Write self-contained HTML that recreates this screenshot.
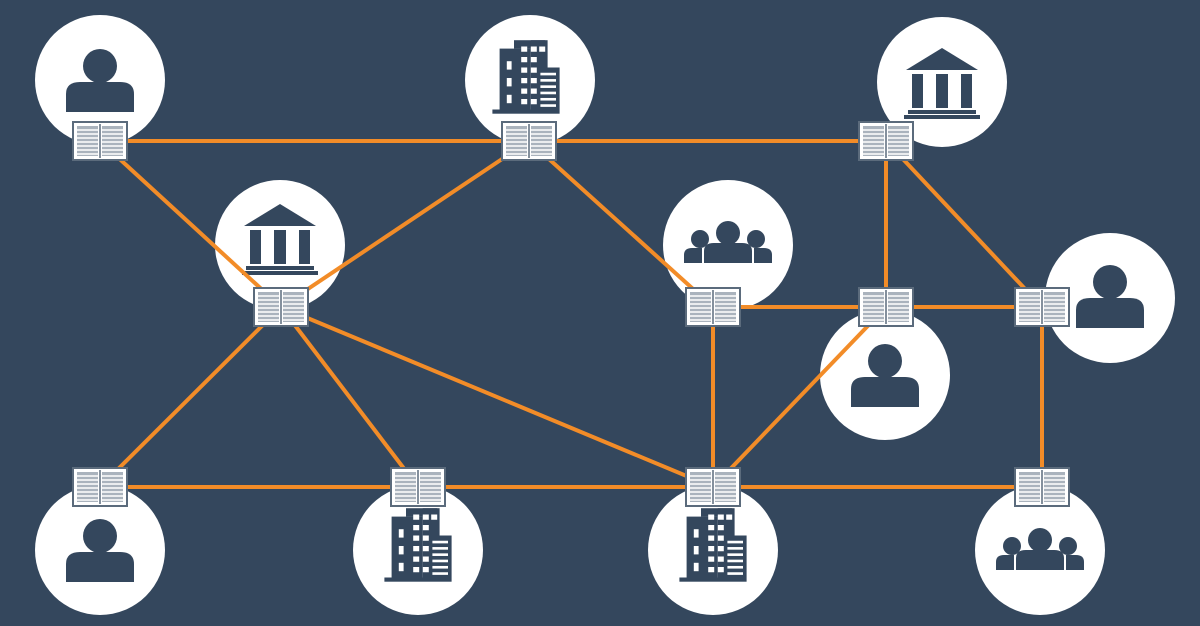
<!DOCTYPE html>
<html><head><meta charset="utf-8"><style>html,body{margin:0;padding:0;background:#34475d;}svg{display:block}</style></head>
<body>
<svg width="1200" height="626" viewBox="0 0 1200 626" xmlns="http://www.w3.org/2000/svg">
<defs>
<g id="led">
<rect x="-27" y="-19" width="54" height="38" fill="#fff" stroke="#5b6b7c" stroke-width="2"/>
<rect x="-23" y="-15" width="21" height="30" fill="#aab3bd"/>
<rect x="2" y="-15" width="21" height="30" fill="#aab3bd"/>
<g stroke="#fff" stroke-width="1.4">
<line x1="-23" y1="-11" x2="23" y2="-11"/><line x1="-23" y1="-7" x2="23" y2="-7"/><line x1="-23" y1="-3" x2="23" y2="-3"/><line x1="-23" y1="1" x2="23" y2="1"/><line x1="-23" y1="5" x2="23" y2="5"/><line x1="-23" y1="9" x2="23" y2="9"/><line x1="-23" y1="13" x2="23" y2="13"/>
</g>
<line x1="0" y1="-17" x2="0" y2="17" stroke="#5b6b7c" stroke-width="1.5"/>
</g>
<g id="person" fill="#34475d">
<circle cx="0" cy="-14" r="17"/>
<path d="M-34 32 V14 Q-34 2 -20 2 H20 Q34 2 34 14 V32 Z"/>
</g>
<g id="bank" fill="#34475d">
<path d="M0 -36 L-36 -14 H36 Z"/>
<rect x="-30" y="-10" width="11" height="34"/><rect x="-6" y="-10" width="12" height="34"/><rect x="19" y="-10" width="11" height="34"/>
<rect x="-34" y="26" width="68" height="4"/><rect x="-38" y="31" width="76" height="4"/>
</g>
<g id="bld0">
<rect x="-22" y="-28" width="26" height="58" fill="#34475d"/>
<rect x="-10" y="-36" width="26" height="8" fill="#34475d"/>
<rect x="4" y="-36" width="14" height="66" fill="#34475d"/>
<rect x="8" y="-10" width="20" height="40" fill="#34475d"/>
<g fill="#fff">
<rect x="-4" y="-30" width="5" height="5"/><rect x="4" y="-30" width="5" height="5"/><rect x="11" y="-30" width="5" height="5"/>
<rect x="-4" y="-20" width="5" height="5"/><rect x="4" y="-20" width="5" height="5"/>
<rect x="-4" y="-10" width="5" height="5"/><rect x="4" y="-10" width="5" height="5"/>
<rect x="-4" y="0" width="5" height="5"/><rect x="4" y="0" width="5" height="5"/>
<rect x="-4" y="10" width="5" height="5"/><rect x="4" y="10" width="5" height="5"/>
<rect x="-4" y="20" width="5" height="5"/><rect x="4" y="20" width="5" height="5"/>
<rect x="-16" y="-16" width="4" height="8"/><rect x="-16" y="0" width="4" height="8"/><rect x="-16" y="16" width="4" height="8"/>
<rect x="12" y="-5" width="13" height="2.5"/><rect x="12" y="1" width="13" height="2.5"/><rect x="12" y="7" width="13" height="2.5"/><rect x="12" y="13" width="13" height="2.5"/><rect x="12" y="19" width="13" height="2.5"/><rect x="12" y="25" width="13" height="2.5"/>
</g>
<rect x="-28" y="30" width="56" height="4" fill="#34475d"/>
</g>
<g id="bld"><use href="#bld0" transform="translate(-4,0) scale(1.2,1.05)"/></g>
<g id="grp" fill="#34475d">
<circle cx="0" cy="-12" r="12"/><path d="M-24 18 V6 Q-24 -2 -14 -2 H14 Q24 -2 24 6 V18 Z"/>
<circle cx="-28" cy="-6" r="9"/><path d="M-44 18 V10 Q-44 3 -36 3 H-26 V18 Z"/>
<circle cx="28" cy="-6" r="9"/><path d="M44 18 V10 Q44 3 36 3 H26 V18 Z"/>
</g>
</defs>
<g fill="#fff">
<circle cx="100" cy="80" r="65"/><circle cx="530" cy="80" r="65"/><circle cx="942" cy="82" r="65"/>
<circle cx="280" cy="245" r="65"/><circle cx="728" cy="245" r="65"/><circle cx="1110" cy="298" r="65"/>
<circle cx="885" cy="375" r="65"/><circle cx="100" cy="550" r="65"/><circle cx="418" cy="550" r="65"/>
<circle cx="713" cy="550" r="65"/><circle cx="1040" cy="550" r="65"/>
</g>
<use href="#person" x="100" y="80"/><use href="#bld" x="530" y="78"/><use href="#bank" x="942" y="84"/>
<use href="#bank" x="280" y="240"/><use href="#grp" x="728" y="245"/><use href="#person" x="1110" y="296"/>
<use href="#person" x="885" y="375"/><use href="#person" x="100" y="550"/><use href="#bld" x="422" y="546"/>
<use href="#bld" x="717" y="546"/><use href="#grp" x="1040" y="552"/>
<g stroke="#f28c28" stroke-width="4" fill="none">
<line x1="100" y1="141" x2="529" y2="141"/><line x1="529" y1="141" x2="886" y2="141"/>
<line x1="100" y1="141" x2="281" y2="307"/><line x1="281" y1="307" x2="529" y2="141"/>
<line x1="529" y1="141" x2="713" y2="307"/><line x1="886" y1="141" x2="886" y2="307"/>
<line x1="886" y1="141" x2="1042" y2="307"/><line x1="713" y1="307" x2="1042" y2="307"/>
<line x1="281" y1="307" x2="100" y2="487"/><line x1="281" y1="307" x2="418" y2="487"/>
<line x1="281" y1="307" x2="713" y2="487"/><line x1="713" y1="307" x2="713" y2="487"/>
<line x1="886" y1="307" x2="713" y2="487"/><line x1="100" y1="487" x2="1042" y2="487"/>
<line x1="1042" y1="307" x2="1042" y2="487"/>
</g>
<use href="#led" x="100" y="141"/><use href="#led" x="529" y="141"/><use href="#led" x="886" y="141"/>
<use href="#led" x="281" y="307"/><use href="#led" x="713" y="307"/><use href="#led" x="886" y="307"/><use href="#led" x="1042" y="307"/>
<use href="#led" x="100" y="487"/><use href="#led" x="418" y="487"/><use href="#led" x="713" y="487"/><use href="#led" x="1042" y="487"/>
</svg>
</body></html>
